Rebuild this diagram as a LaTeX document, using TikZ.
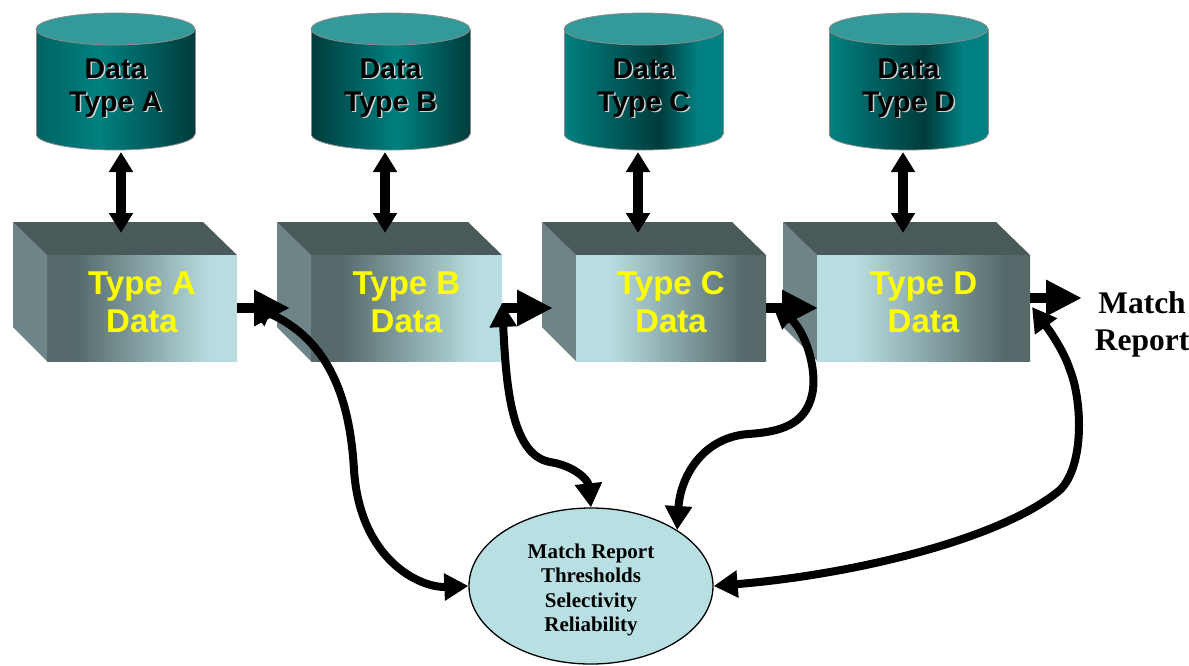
\documentclass[tikz,border=0pt]{standalone}
\usepackage{fontspec}
\setmainfont{Liberation Serif}
\newfontfamily\arialfont{Liberation Sans}
\usetikzlibrary{arrows.meta,shapes.geometric}

\definecolor{tealbright}{HTML}{008080}
\definecolor{tealmid}{HTML}{006262}
\definecolor{tealdark}{HTML}{003C3C}
\definecolor{cyltop}{HTML}{339999}
\definecolor{cylline}{HTML}{8C8C8C}
\definecolor{boxtop}{HTML}{4A5A5A}
\definecolor{boxside}{HTML}{6E8486}
\definecolor{frontdark}{HTML}{566A6C}
\definecolor{frontlight}{HTML}{B8DDE0}
\definecolor{ellfill}{HTML}{B8E0E3}
\definecolor{labelyellow}{HTML}{FFFF00}

\pgfdeclarehorizontalshading{cylAshade}{100bp}{color(0bp)=(tealmid); color(25bp)=(tealmid); color(45bp)=(tealbright); color(75bp)=(tealdark); color(100bp)=(tealdark)}
\pgfdeclarehorizontalshading{cylBshade}{100bp}{color(0bp)=(tealdark); color(25bp)=(tealdark); color(52bp)=(tealbright); color(75bp)=(tealdark); color(100bp)=(tealdark)}
\pgfdeclarehorizontalshading{cylCshade}{100bp}{color(0bp)=(tealbright); color(25bp)=(tealbright); color(55bp)=(tealdark); color(67bp)=(tealbright); color(75bp)=(tealbright); color(100bp)=(tealbright)}
\pgfdeclarehorizontalshading{frontDL}{100bp}{color(0bp)=(frontdark); color(25bp)=(frontdark); color(33bp)=(frontdark); color(68bp)=(frontlight); color(75bp)=(frontlight); color(100bp)=(frontlight)}
\pgfdeclarehorizontalshading{frontLD}{100bp}{color(0bp)=(frontlight); color(25bp)=(frontlight); color(34bp)=(frontlight); color(69bp)=(frontdark); color(75bp)=(frontdark); color(100bp)=(frontdark)}

\tikzset{
  cyllabel/.style={font=\arialfont\bfseries\fontsize{28.5}{33}\selectfont, align=center, inner sep=0pt},
  boxlabel/.style={font=\arialfont\bfseries\fontsize{33}{38}\selectfont, align=center, inner sep=0pt, text=labelyellow},
  vdouble/.style={line width=10pt, {Triangle[length=20pt,width=23pt]}-{Triangle[length=20pt,width=23pt]}},
  hsingle/.style={line width=10pt, -{Triangle[length=36pt,width=34pt]}},
  curvedouble/.style={line width=8pt, {Triangle[length=24pt,width=26pt]}-{Triangle[length=24pt,width=26pt]}},
  cylborder/.style={draw=cylline, line width=0.8pt},
}

% #1 left x, #2 shading, #3 node name, #4 label
\newcommand\dbcylinder[4]{%
  \pgfmathsetmacro\cylR{#1+159}%
  \pgfmathsetmacro\cylC{#1+79.5}%
  \shade[shading=#2] (#1,29) rectangle (\cylR,134);
  \shade[shading=#2] (\cylC,134) ellipse [x radius=79.5pt, y radius=16pt];
  \draw[cylborder] (#1,29) -- (#1,134) (\cylR,29) -- (\cylR,134);
  \begin{scope}
    \clip (#1-2,134) rectangle (\cylR+2,160);
    \draw[cylborder] (\cylC,134) ellipse [x radius=79.5pt, y radius=16pt];
  \end{scope}
  \filldraw[fill=cyltop, cylborder] (\cylC,29) ellipse [x radius=79.5pt, y radius=16pt];
  \node[cyllabel, text=gray!35] at (\cylC+1.5,89.5) {Data\\#4};
  \node[cyllabel] (#3) at (\cylC,88) {Data\\#4};
}

% #1 left x, #2 right x, #3 shading, #4 node name, #5 label
\newcommand\databox[5]{%
  \pgfmathsetmacro\boxW{#2-#1-34}%
  \pgfmathsetmacro\boxC{(#1+34+#2)/2}%
  \fill[boxside] (#1,222) -- (#1+34,255) -- (#1+34,361) -- (#1,327) -- cycle;
  \fill[boxtop] (#1,222) -- (#2-34,222) -- (#2,255) -- (#1+34,255) -- cycle;
  \node[inner sep=0pt, outer sep=0pt, minimum width=\boxW pt, minimum height=106pt,
        shading=#3, anchor=north west] (#4) at (#1+34,255) {};
  \node[boxlabel] (#4-label) at (\boxC,302.5) {#5\\Data};
}

\begin{document}
\begin{tikzpicture}[x=1pt,y=-1pt]
\useasboundingbox (0,0) rectangle (1189,665);

% boxes
\databox{13}{237}{frontDL}{boxA}{Type A}
\databox{277}{502}{frontDL}{boxB}{Type B}
\databox{542}{766}{frontLD}{boxC}{Type C}
\databox{783}{1030}{frontLD}{boxD}{Type D}

% cylinders
\dbcylinder{36}{cylAshade}{cylA}{Type A}
\dbcylinder{311}{cylBshade}{cylB}{Type B}
\dbcylinder{564}{cylCshade}{cylC}{Type C}
\dbcylinder{829}{cylCshade}{cylD}{Type D}

% control ellipse
\node[ellipse, draw=black, line width=1.3pt, fill=ellfill, minimum width=244pt,
      minimum height=156pt, inner sep=0pt] (ctrl) at (591,586) {};
\node[font=\bfseries\fontsize{21}{24.4}\selectfont, align=center, inner sep=0pt]
      (ctrltext) at (591,590) {Match Report\\Thresholds\\Selectivity\\Reliability};

% output label
\node[font=\bfseries\fontsize{31.5}{37}\selectfont, align=center, inner sep=0pt]
      (report) at (1142,324.7) {Match\\Report};

% connector end points
\coordinate (cylA-s) at (121,152);  \coordinate (boxA-n) at (121,233);
\coordinate (cylB-s) at (385,152);  \coordinate (boxB-n) at (385,233);
\coordinate (cylC-s) at (638,152);  \coordinate (boxC-n) at (638,233);
\coordinate (cylD-s) at (903,152);  \coordinate (boxD-n) at (903,233);
\coordinate (inB) at (290,308);
\coordinate (inC) at (553,308);
\coordinate (inD) at (818,308);
\coordinate (outD) at (1030,298);
\coordinate (toReport) at (1082,298);
\coordinate (tipA) at (248,304);
\coordinate (tipB) at (502,303);
\coordinate (tipC) at (772,304);
\coordinate (tipD) at (1032,307);

% vertical double arrows
\draw[vdouble] (cylA-s) -- (boxA-n);
\draw[vdouble] (cylB-s) -- (boxB-n);
\draw[vdouble] (cylC-s) -- (boxC-n);
\draw[vdouble] (cylD-s) -- (boxD-n);

% curved feedback arrows
\draw[curvedouble] (tipA) .. controls (330,340) and (350,400) .. (354,470)
      .. controls (360,560) and (420,588) .. (ctrl.west);
\draw[curvedouble] (tipB) .. controls (506,380) and (510,455) .. (550,462)
      .. controls (575,466) and (588,480) .. (ctrl.north);
\draw[curvedouble] (tipC) .. controls (805,330) and (818,370) .. (812,395)
      .. controls (805,425) and (780,432) .. (748,434)
      .. controls (700,438) and (680,480) .. (ctrl.33);
\draw[curvedouble] (ctrl.east) .. controls (850,575) and (1000,540) .. (1060,490)
      .. controls (1085,465) and (1082,400) .. (1070,370)
      .. controls (1062,345) and (1040,318) .. (tipD);

% horizontal flow arrows
\draw[hsingle] (boxA.east) -- (inB);
\draw[hsingle] (boxB.east) -- (inC);
\draw[hsingle] (boxC.east) -- (inD);
\draw[hsingle] (outD) -- (toReport);
\end{tikzpicture}
\end{document}
